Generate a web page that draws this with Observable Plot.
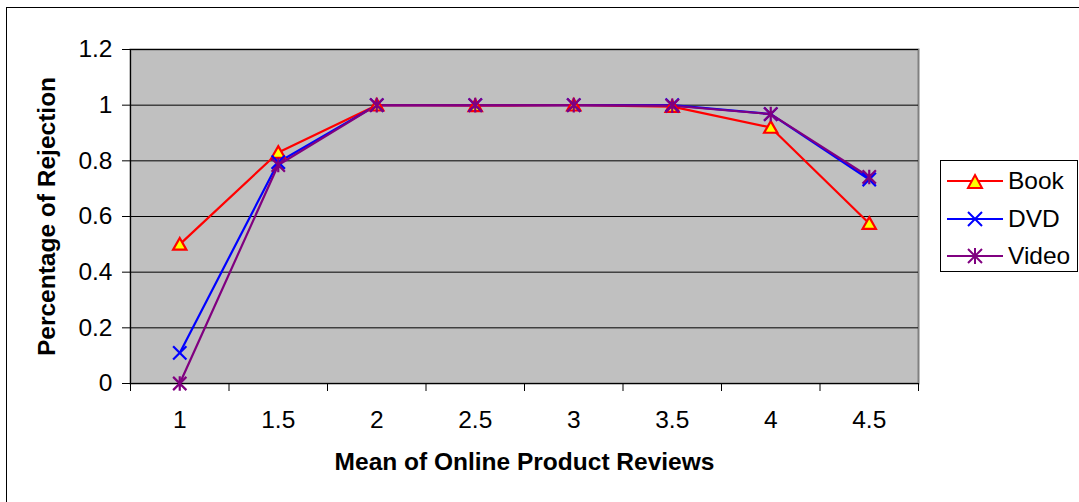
<!DOCTYPE html>
<html>
<head>
<meta charset="utf-8">
<script src="https://cdn.jsdelivr.net/npm/d3@7"></script>
<script src="https://cdn.jsdelivr.net/npm/@observablehq/plot@0.6"></script>
<style>
  html, body { margin: 0; padding: 0; background: #fff; overflow: hidden; }
  body { width: 1079px; height: 502px; position: relative; font-family: "Liberation Sans", Arial, sans-serif; }
  #frame { position: absolute; left: 6px; top: 7px; width: 1200px; height: 600px; border: 1px solid #000; box-sizing: border-box; }
  #chart { position: absolute; left: 0; top: 0; }
  #legend { position: absolute; left: 940px; top: 160px; width: 138px; height: 112px; border: 1px solid #000; box-sizing: border-box; background: #fff; }
  .row { position: absolute; left: 6px; height: 30px; display: flex; align-items: center; }
  .row span { font-size: 24.5px; margin-left: 5px; color: #000; }
</style>
</head>
<body>
<div id="frame"></div>
<div id="chart"></div>
<div id="legend"></div>
<script>
const categories = [1, 1.5, 2, 2.5, 3, 3.5, 4, 4.5];
const book  = [0.50, 0.83, 1.00, 0.998, 1.00, 0.995, 0.92, 0.575];
const dvd   = [0.11, 0.795, 1.00, 1.00, 1.00, 1.00, 0.968, 0.733];
const video = [0.00, 0.785, 1.00, 1.00, 1.00, 0.998, 0.968, 0.742];
const yTicks = [0, 0.2, 0.4, 0.6, 0.8, 1, 1.2];
const seriesNames = ["Book", "DVD", "Video"];
const colors = { Book: "#FF0000", DVD: "#0000FF", Video: "#800080" };

const boundaries = d3.range(categories.length + 1).map(i => categories[0] - 0.25 + i * 0.5);

const rows = [];
[book, dvd, video].forEach((vals, si) => {
  vals.forEach((v, i) => rows.push({ series: seriesNames[si], x: categories[i], y: v }));
});
const rowsOf = s => rows.filter(r => r.series === s);

const starSymbol = {
  draw(ctx, size) {
    const r = Math.sqrt(size) / 2;
    ctx.moveTo(-r, -r); ctx.lineTo(r, r);
    ctx.moveTo(r, -r); ctx.lineTo(-r, r);
    ctx.moveTo(0, -r * 1.1); ctx.lineTo(0, r * 1.1);
  }
};
const timesSymbol = {
  draw(ctx, size) {
    const r = Math.sqrt(size) / 2;
    ctx.moveTo(-r, -r); ctx.lineTo(r, r);
    ctx.moveTo(r, -r); ctx.lineTo(-r, r);
  }
};
const triSymbol = {
  draw(ctx, size) {
    const r = Math.sqrt(size) / 2;
    ctx.moveTo(0, -r * 0.95); ctx.lineTo(r, r * 0.8); ctx.lineTo(-r, r * 0.8); ctx.closePath();
  }
};

const FS = 24.5;
const plot = Plot.plot({
  width: 1079,
  height: 502,
  marginLeft: 130,
  marginRight: 161,
  marginTop: 49,
  marginBottom: 119,
  style: { fontFamily: "'Liberation Sans', Arial, sans-serif", fontSize: FS + "px", color: "#000", background: "transparent" },
  x: { type: "linear", domain: [boundaries[0], boundaries[boundaries.length - 1]] },
  y: { domain: [0, 1.2] },
  marks: [
    Plot.frame({ fill: "#C0C0C0", stroke: "#808080", strokeWidth: 2 }),
    Plot.gridY(yTicks.slice(1), { stroke: "#000", strokeOpacity: 1, strokeWidth: 1 }),
    Plot.axisY({ ticks: yTicks, tickSize: 8, tickPadding: 10, tickFormat: d => String(d), label: null, stroke: "#000", fontSize: FS }),
    Plot.axisX({ ticks: boundaries, tickSize: 8, tickFormat: () => "", label: null, stroke: "#000" }),
    Plot.axisX({ ticks: categories, tickSize: 0, tickPadding: 27, tickFormat: d => String(d), label: null, fontSize: FS }),
    Plot.ruleY([0], { stroke: "#000", strokeWidth: 1 }),
    Plot.ruleX([boundaries[0]], { stroke: "#000", strokeWidth: 1 }),
    Plot.line(rowsOf("Book"), { x: "x", y: "y", stroke: colors.Book, strokeWidth: 2.2 }),
    Plot.line(rowsOf("DVD"), { x: "x", y: "y", stroke: colors.DVD, strokeWidth: 2.2 }),
    Plot.line(rowsOf("Video"), { x: "x", y: "y", stroke: colors.Video, strokeWidth: 2.2 }),
    Plot.dot(rowsOf("Book"), { x: "x", y: "y", symbol: triSymbol, r: 7.5, stroke: colors.Book, fill: "#FFFF00", strokeWidth: 2.2 }),
    Plot.dot(rowsOf("DVD"), { x: "x", y: "y", symbol: timesSymbol, r: 7.5, stroke: colors.DVD, fill: "none", strokeWidth: 2.2 }),
    Plot.dot(rowsOf("Video"), { x: "x", y: "y", symbol: starSymbol, r: 7.5, stroke: colors.Video, fill: "none", strokeWidth: 2.2 }),
    Plot.text(["Percentage of Rejection"], { text: d => d, frameAnchor: "left", textAnchor: "middle", dx: -83, rotate: -90, fontWeight: "bold", fontSize: FS }),
    Plot.text(["Mean of Online Product Reviews"], { text: d => d, frameAnchor: "bottom", textAnchor: "middle", dy: 86, fontWeight: "bold", fontSize: FS })
  ]
});
document.getElementById("chart").appendChild(plot);

const legend = document.getElementById("legend");
const legendSyms = {
  Book: '<path d="M14,3 L21,16 L7,16 Z" fill="#FFFF00" stroke="#FF0000" stroke-width="2"/>',
  DVD: '<path d="M7,2 L21,16 M21,2 L7,16" stroke="#0000FF" stroke-width="2" fill="none"/>',
  Video: '<path d="M7,2 L21,16 M21,2 L7,16 M14,1 L14,17" stroke="#800080" stroke-width="2" fill="none"/>'
};
seriesNames.forEach((s, i) => {
  const row = document.createElement("div");
  row.className = "row";
  row.style.top = (5 + i * 37.5) + "px";
  row.innerHTML = `<svg width="56" height="18" viewBox="0 0 56 18"><line x1="0" y1="9" x2="56" y2="9" stroke="${colors[s]}" stroke-width="2"/><g transform="translate(14,0)">${legendSyms[s]}</g></svg><span>${s}</span>`;
  legend.appendChild(row);
});
</script>
</body>
</html>
